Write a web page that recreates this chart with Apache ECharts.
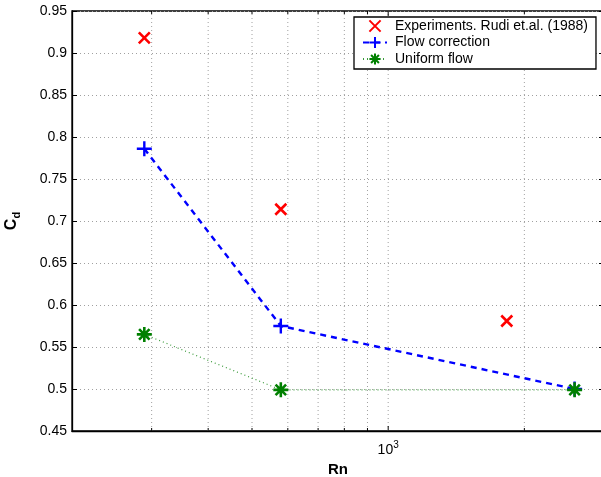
<!DOCTYPE html>
<html><head><meta charset="utf-8">
<script src="https://cdn.jsdelivr.net/npm/echarts@6/dist/echarts.min.js"></script>
<style>html,body{margin:0;padding:0;background:#fff}#c{width:601px;height:477px}</style>
</head><body><div id="c"></div>
<script>
// Data
const rnExp = [289, 579, 1829];
const cdExp = [0.918, 0.714, 0.581];
const rnFlow = [289, 579, 2583];
const cdFlow = [0.786, 0.575, 0.500];
const rnUni = [289, 579, 2583];
const cdUni = [0.565, 0.499, 0.499];
const gridX = [300, 400, 500, 600, 700, 800, 900, 1000, 2000];
const seriesNames = ['Experiments. Rudi et.al. (1988)', 'Flow correction', 'Uniform flow'];

const zip = (xs, ys) => xs.map((x, i) => [x, ys[i]]);
const FONT = 'Liberation Sans';
const symX = 'path://M0 0L10 10M10 0L0 10';
const symPlus = 'path://M5 0L5 10M0 5L10 5';
const symStar = 'path://M5 0L5 10M0 5L10 5M1.5 1.5L8.5 8.5M8.5 1.5L1.5 8.5';
const GRIDC = '#a0a0a0';

const chart = echarts.init(document.getElementById('c'), null, {renderer: 'canvas'});
const yAxisBase = {
  type: 'value', min: 0.45, max: 0.95, interval: 0.05,
  axisLine: {show: true, onZero: false, lineStyle: {color: '#000', width: 1.3}},
  axisTick: {show: true, inside: true, length: 5, lineStyle: {color: '#000'}},
};
chart.setOption({
  animation: false,
  backgroundColor: '#fff',
  textStyle: {fontFamily: FONT},
  grid: {left: 72, top: 11, width: 532, height: 420, containLabel: false, outerBoundsMode: 'none',
    show: true, borderColor: '#000', borderWidth: 1.3},
  legend: {
    orient: 'vertical', left: 354, top: 17,
    padding: [2, 8, 3, 8],
    itemWidth: 24, itemHeight: 14, itemGap: 2.5,
    backgroundColor: '#fff', borderColor: '#000', borderWidth: 1.3, borderRadius: 0,
    textStyle: {fontFamily: FONT, fontSize: 14, color: '#000', padding: [0, 0, 0, 3]},
    data: seriesNames
  },
  xAxis: [{
    type: 'log', logBase: 10, min: 200, max: 3000,
    name: 'Rn', nameLocation: 'middle', nameGap: 31,
    nameTextStyle: {fontFamily: FONT, fontSize: 15, fontWeight: 'bold', color: '#000'},
    axisLine: {show: true, onZero: false, lineStyle: {color: '#000', width: 1.3}},
    axisTick: {show: false},
    splitLine: {show: false},
    axisLabel: {
      color: '#000', fontSize: 14, margin: 9, showMinLabel: false, showMaxLabel: false,
      formatter: v => Math.abs(v - 1000) < 1 ? '10{sup|3}' : '',
      rich: {sup: {fontSize: 10, verticalAlign: 'top', padding: [0, 0, 10, 0]}}
    }
  }],
  yAxis: [Object.assign({}, yAxisBase, {
    position: 'left',
    name: 'C{sub|d}', nameLocation: 'middle', nameGap: 50, nameRotate: 90,
    nameTextStyle: {fontFamily: FONT, fontSize: 16, fontWeight: 'bold', color: '#000',
      rich: {sub: {fontSize: 11, fontWeight: 'bold', padding: [9, 0, 0, 0]}}},
    axisLabel: {color: '#000', fontSize: 14, margin: 5, formatter: v => String(parseFloat(v.toFixed(2)))},
    splitLine: {show: true, lineStyle: {color: GRIDC, width: 1, type: [1, 3]}}
  }), Object.assign({}, yAxisBase, {
    position: 'right', axisLabel: {show: false}, splitLine: {show: false}
  })],
  series: [
    {
      type: 'custom', silent: true, z: 1,
      data: gridX.map(v => [v]),
      renderItem: (params, api) => {
        const v = api.value(0);
        const b = api.coord([v, 0.45]);
        const t = api.coord([v, 0.95]);
        const len = Math.abs(v - 1000) < 1 ? 5 : 3;
        return {type: 'group', children: [
          {type: 'line', shape: {x1: b[0], y1: b[1], x2: t[0], y2: t[1]}, style: {stroke: GRIDC, lineWidth: 1, lineDash: [1, 3]}},
          {type: 'line', shape: {x1: b[0], y1: b[1], x2: b[0], y2: b[1] - len}, style: {stroke: '#000', lineWidth: 1}},
          {type: 'line', shape: {x1: t[0], y1: t[1], x2: t[0], y2: t[1] + len}, style: {stroke: '#000', lineWidth: 1}}
        ]};
      }
    },
    {
      name: seriesNames[0], type: 'line', z: 5,
      data: zip(rnExp, cdExp), symbol: symX, symbolSize: 11,
      lineStyle: {width: 0, opacity: 0},
      itemStyle: {color: 'rgba(0,0,0,0)', borderColor: '#ff0000', borderWidth: 2.6}
    },
    {
      name: seriesNames[1], type: 'line', z: 6,
      data: zip(rnFlow, cdFlow), symbol: symPlus, symbolSize: 15,
      lineStyle: {color: '#0000ff', width: 2.4, type: [6, 5]},
      itemStyle: {color: 'rgba(0,0,0,0)', borderColor: '#0000ff', borderWidth: 2.4}
    },
    {
      name: seriesNames[2], type: 'line', z: 7,
      data: zip(rnUni, cdUni), symbol: symStar, symbolSize: 15,
      lineStyle: {color: '#3a9a3a', width: 1.2, type: [1, 3]},
      itemStyle: {color: 'rgba(0,0,0,0)', borderColor: '#008000', borderWidth: 2.6}
    }
  ]
});
</script></body></html>
